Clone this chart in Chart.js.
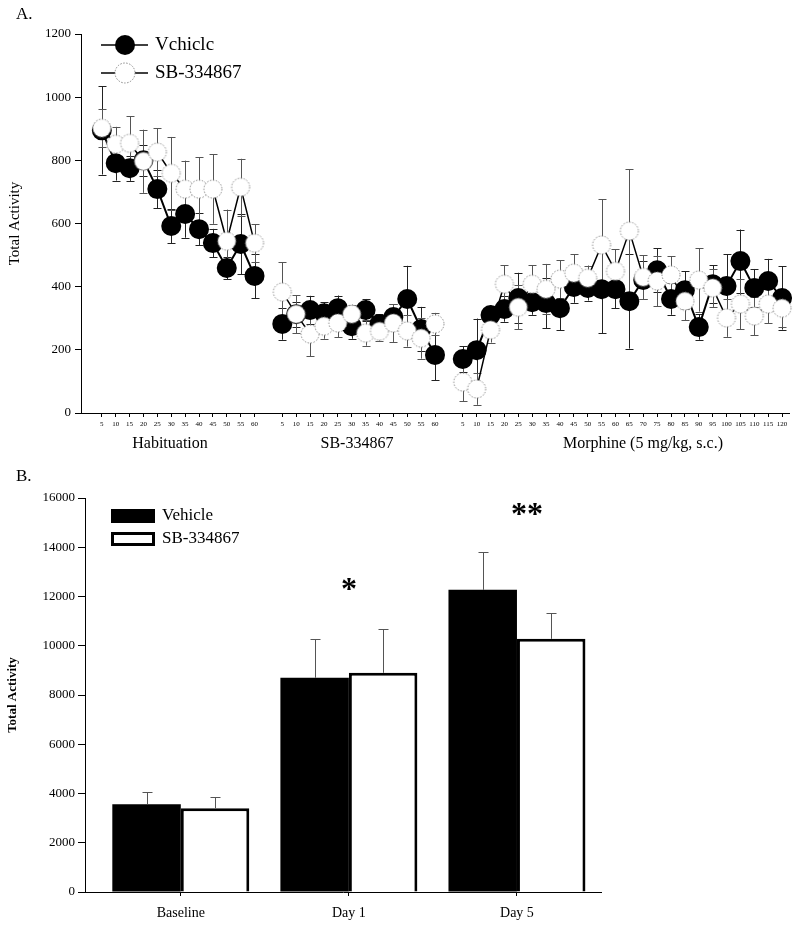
<!DOCTYPE html>
<html><head><meta charset="utf-8">
<script src="https://cdn.jsdelivr.net/npm/chart.js@4/dist/chart.umd.min.js"></script>
<style>
body{margin:0;background:#fff;width:800px;height:927px;overflow:hidden;position:relative}
canvas{position:absolute;left:0}
#c1{top:0;width:800px;height:455px}
#c2{top:455px;width:800px;height:472px}
</style></head>
<body>
<canvas id="c1" width="800" height="455"></canvas>
<canvas id="c2" width="800" height="472"></canvas>
<script>
// ---------- Panel A data ----------
const habTimes = [5,10,15,20,25,30,35,40,45,50,55,60];
const sbTimes = [5,10,15,20,25,30,35,40,45,50,55,60];
const morTimes = [5,10,15,20,25,30,35,40,45,50,55,60,65,70,75,80,85,90,95,100,105,110,115,120];
const sectionNames = ['Habituation','SB-334867','Morphine (5 mg/kg, s.c.)'];

const vehHab = [895,791,775,800,709,592,630,582,538,459,535,434];
const vehHabErr = [140,55,40,50,60,55,75,50,45,35,95,70];
const sbHab = [902,851,854,797,826,759,709,709,709,544,715,538];
const sbHabErr = [60,55,85,100,75,115,90,100,110,100,90,60];

const vehSB = [282,313,326,316,332,275,326,282,304,361,266,184];
const vehSBErr = [50,40,45,35,40,40,35,30,40,105,70,80];
const sbSB = [383,313,250,275,285,313,253,259,285,260,237,282];
const sbSBErr = [95,60,70,40,45,30,40,30,60,50,65,35];

const vehMor = [171,199,310,329,364,351,348,332,399,396,392,392,354,421,452,361,389,272,408,402,481,396,418,364];
const vehMorErr = [40,100,30,40,80,40,80,70,50,40,140,60,150,60,70,50,60,40,60,100,100,60,70,100];
const sbMor = [98,76,263,408,335,408,392,424,443,427,532,449,576,430,418,437,354,421,396,301,345,307,345,332];
const sbMorErr = [60,50,40,60,70,60,80,60,60,40,145,70,195,70,80,60,60,100,60,60,80,60,60,60];

// ---------- Panel B data ----------
const barCats = ['Baseline','Day 1','Day 5'];
const barVeh = [3560,8700,12270];
const barVehErr = [490,1580,1530];
const barSB = [3400,8900,10280];
const barSBErr = [450,1790,1060];

Chart.defaults.color = '#000';
Chart.defaults.font.family = '"Liberation Serif", "Times New Roman", serif';

// build full series with gaps (leading blank slot + a blank slot between sections)
const xLabels = [''].concat(habTimes.map(String), [''], sbTimes.map(String), [''], morTimes.map(String));
const joinSeries = (a,b,c) => [null].concat(a,[null],b,[null],c);
const vehAll = joinSeries(vehHab, vehSB, vehMor);
const sbAll = joinSeries(sbHab, sbSB, sbMor);
const vehErrAll = joinSeries(vehHabErr, vehSBErr, vehMorErr);
const sbErrAll = joinSeries(sbHabErr, sbSBErr, sbMorErr);

function dottedCircle(r){
  const c = document.createElement('canvas');
  c.width = c.height = 2*r+4;
  const g = c.getContext('2d');
  g.beginPath(); g.arc(r+2, r+2, r, 0, Math.PI*2);
  g.fillStyle = '#fff'; g.fill();
  g.setLineDash([1.5,1.5]); g.strokeStyle = '#888'; g.lineWidth = 1; g.stroke();
  return c;
}
const whitePt = dottedCircle(9);
const whitePtLeg = dottedCircle(10);

const errPluginA = {
  id: 'errA',
  beforeDatasetsDraw(chart){
    const ctx = chart.ctx, xs = chart.scales.x, ys = chart.scales.y;
    const sets = [[vehAll, vehErrAll, '#222'], [sbAll, sbErrAll, '#555']];
    ctx.save(); ctx.lineWidth = 1;
    sets.forEach(([vals, errs, col]) => {
      ctx.strokeStyle = col;
      vals.forEach((v,i) => {
        if (v == null) return;
        const x = Math.round(xs.getPixelForValue(i)) + 0.5;
        const y1 = ys.getPixelForValue(v + errs[i]);
        const y2 = ys.getPixelForValue(Math.max(0, v - errs[i]));
        ctx.beginPath();
        ctx.moveTo(x, y1); ctx.lineTo(x, y2);
        ctx.moveTo(x-4, Math.round(y1)+0.5); ctx.lineTo(x+4, Math.round(y1)+0.5);
        ctx.moveTo(x-4, Math.round(y2)+0.5); ctx.lineTo(x+4, Math.round(y2)+0.5);
        ctx.stroke();
      });
    });
    ctx.restore();
  },
  afterDraw(chart){
    const ctx = chart.ctx;
    ctx.save();
    ctx.fillStyle = '#000';
    ctx.font = '17px "Liberation Serif", serif';
    ctx.textBaseline = 'middle'; ctx.textAlign = 'left';
    ctx.fillText('A.', 16, 15);
    ctx.font = '16px "Liberation Serif", serif';
    ctx.textAlign = 'center';
    const centers = [170, 357, 643];
    sectionNames.forEach((n,k) => ctx.fillText(n, centers[k], 444));
    // legend
    ctx.strokeStyle = '#000'; ctx.lineWidth = 1.5;
    ctx.beginPath(); ctx.moveTo(101,45); ctx.lineTo(148,45); ctx.stroke();
    ctx.beginPath(); ctx.moveTo(101,73); ctx.lineTo(148,73); ctx.stroke();
    ctx.beginPath(); ctx.arc(125,45,10,0,Math.PI*2); ctx.fillStyle='#000'; ctx.fill();
    ctx.drawImage(whitePtLeg, 125-whitePtLeg.width/2, 73-whitePtLeg.height/2);
    ctx.fillStyle = '#000';
    ctx.font = '19px "Liberation Serif", serif';
    ctx.textAlign = 'left';
    ctx.fillText('Vchiclc', 155, 45);
    ctx.fillText('SB-334867', 155, 73);
    ctx.restore();
  }
};

new Chart(document.getElementById('c1'), {
  type: 'line',
  data: {
    labels: xLabels,
    datasets: [
      { label: 'SB-334867', data: sbAll, order: 0, borderColor: '#000', borderWidth: 1.5,
        pointStyle: whitePt, pointRadius: 9, spanGaps: false },
      { label: 'Vchiclc', data: vehAll, order: 1, borderColor: '#000', borderWidth: 2,
        pointStyle: 'circle', pointRadius: 9, pointBackgroundColor: '#000', pointBorderColor: '#000', spanGaps: false }
    ]
  },
  options: {
    responsive: false, animation: false,
    layout: { padding: { left: 0, right: 5, top: 34, bottom: 0 } },
    plugins: { legend: { display: false }, tooltip: { enabled: false } },
    scales: {
      x: {
        offset: true,
        afterFit: s => { s.height = 42; },
        grid: { display: true, drawOnChartArea: false, tickLength: 4,
                color: c => (c.tick && c.tick.label !== '' ? '#000' : 'rgba(0,0,0,0)') },
        border: { display: true, color: '#000', width: 1 },
        ticks: { autoSkip: false, maxRotation: 0, minRotation: 0, padding: 3,
                 font: { size: 7 } }
      },
      y: {
        min: 0, max: 1200,
        afterFit: s => { s.width = 81; },
        grid: { display: true, drawOnChartArea: false, tickLength: 6, color: '#000' },
        border: { display: true, color: '#000', width: 1 },
        ticks: { stepSize: 200, padding: 4, font: { size: 13 }, callback: v => String(v) },
        title: { display: true, text: 'Total Activity', font: { size: 15 }, padding: { top: 6, bottom: 0 } }
      }
    }
  },
  plugins: [errPluginA]
});

// ---------- Panel B ----------
const errPluginB = {
  id: 'errB',
  afterDatasetsDraw(chart){
    const ctx = chart.ctx, ys = chart.scales.y;
    ctx.save(); ctx.strokeStyle = '#555'; ctx.lineWidth = 1;
    [[0, barVeh, barVehErr], [1, barSB, barSBErr]].forEach(([di, vals, errs]) => {
      const meta = chart.getDatasetMeta(di);
      vals.forEach((v,i) => {
        const x = Math.round(meta.data[i].x) + 0.5;
        const yTop = Math.round(ys.getPixelForValue(v + errs[i])) + 0.5;
        const yBar = ys.getPixelForValue(v);
        ctx.beginPath();
        ctx.moveTo(x, yBar); ctx.lineTo(x, yTop);
        ctx.moveTo(x-5, yTop); ctx.lineTo(x+5, yTop);
        ctx.stroke();
      });
    });
    ctx.restore();
  },
  afterDraw(chart){
    const ctx = chart.ctx, xs = chart.scales.x;
    ctx.save();
    ctx.fillStyle = '#000';
    ctx.font = '17px "Liberation Serif", serif';
    ctx.textBaseline = 'middle'; ctx.textAlign = 'left';
    ctx.fillText('B.', 16, 22);
    // legend
    ctx.fillRect(111, 54, 44, 14);
    ctx.lineWidth = 3; ctx.strokeStyle = '#000';
    ctx.strokeRect(112.5, 78.5, 41, 11);
    ctx.font = '17px "Liberation Serif", serif';
    ctx.fillText('Vehicle', 162, 61);
    ctx.fillText('SB-334867', 162, 84);
    // significance marks
    ctx.font = 'bold 32px "Liberation Serif", serif';
    ctx.textAlign = 'center';
    ctx.fillText('*', xs.getPixelForValue(1), 136);
    ctx.fillText('**', xs.getPixelForValue(2) + 10, 61);
    ctx.restore();
  }
};

new Chart(document.getElementById('c2'), {
  type: 'bar',
  data: {
    datasets: [
      { label: 'Vehicle', data: barVeh.map((v,i) => ({x:i, y:v})), backgroundColor: '#000',
        borderColor: '#000', borderWidth: 0, barPercentage: 1.0, categoryPercentage: 0.815 },
      { label: 'SB-334867', data: barSB.map((v,i) => ({x:i, y:v})), backgroundColor: '#fff',
        borderColor: '#000', borderWidth: 3, barPercentage: 1.0, categoryPercentage: 0.815 }
    ]
  },
  options: {
    responsive: false, animation: false,
    layout: { padding: { left: 0, right: 199, top: 43, bottom: 0 } },
    plugins: { legend: { display: false }, tooltip: { enabled: false } },
    scales: {
      x: {
        type: 'linear', min: -0.57, max: 2.5, offset: false,
        afterBuildTicks: s => { s.ticks = barCats.map((c,i) => ({ value: i })); },
        afterFit: s => { s.height = 35; },
        grid: { display: true, offset: false, drawOnChartArea: false, tickLength: 4, color: '#000' },
        border: { display: true, color: '#000', width: 1 },
        ticks: { callback: v => barCats[v], padding: 9, maxRotation: 0, font: { size: 14 } }
      },
      y: {
        min: 0, max: 16000,
        afterFit: s => { s.width = 85; },
        grid: { display: true, drawOnChartArea: false, tickLength: 7, color: '#000' },
        border: { display: true, color: '#000', width: 1 },
        ticks: { stepSize: 2000, padding: 3, font: { size: 13 }, callback: v => String(v) },
        title: { display: true, text: 'Total Activity', font: { size: 13, weight: 'bold' }, padding: { top: 5, bottom: 0 } }
      }
    }
  },
  plugins: [errPluginB]
});
</script>
</body></html>
